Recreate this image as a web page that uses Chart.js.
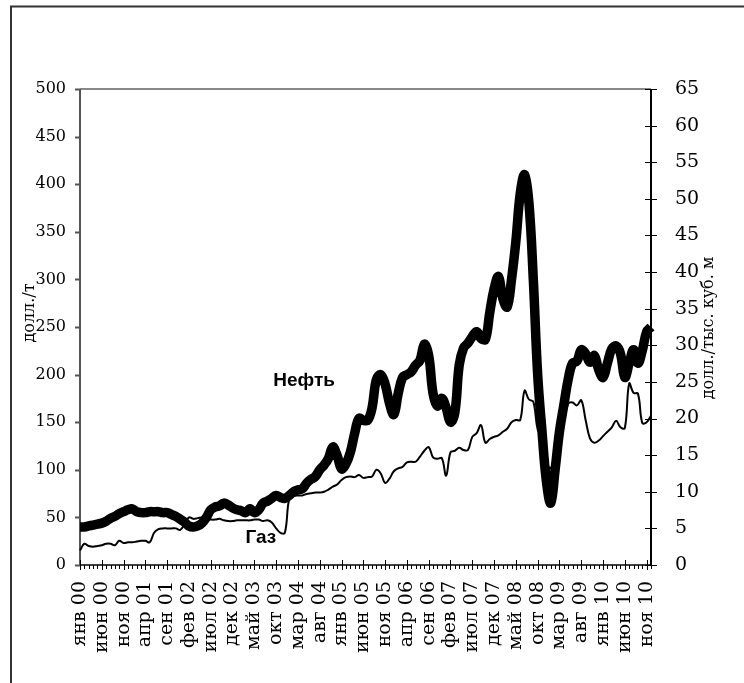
<!DOCTYPE html>
<html>
<head>
<meta charset="utf-8">
<script src="https://cdn.jsdelivr.net/npm/chart.js@4.4.1/dist/chart.umd.min.js"></script>
<style>
  body { margin: 0; background: #fff; }
  canvas { display: block; }
</style>
</head>
<body>
<canvas id="chart" width="744" height="683"></canvas>
<script>
// месяцы и годы для подписей оси X
const monthNames = ['янв', 'фев', 'мар', 'апр', 'май', 'июн', 'июл', 'авг', 'сен', 'окт', 'ноя', 'дек']
const yearNames = ['00', '01', '02', '03', '04', '05', '06', '07', '08', '09', '10']
const categories = []
yearNames.forEach(y => monthNames.forEach(m => categories.push(m + ' ' + y)))

// Нефть, долл./т (левая ось)
const oil = [
  40, 40, 41, 42, 43, 44, 46, 49, 51, 54,
  56, 58, 59, 56, 55, 55, 56, 56, 56, 55,
  55, 53, 51, 48, 45, 41, 40, 41, 44, 50,
  58, 61, 62, 65, 63, 60, 58, 57, 55, 59,
  55, 58, 65, 67, 70, 73, 71, 70, 73, 77,
  79, 80, 86, 90, 93, 100, 105, 112, 124, 115,
  101, 106, 118, 138, 154, 152, 152, 165, 195, 200,
  190, 170, 158, 180, 197, 200, 203, 210, 215, 232,
  220, 180, 167, 175, 165, 150, 160, 210, 228, 233,
  240, 245, 238, 237, 265, 290, 303, 280, 271, 300,
  340, 390, 410, 380, 300, 200, 140, 88, 65, 100,
  140, 168, 195, 212, 214, 226, 222, 213, 220, 205,
  197, 212, 227, 230, 222, 197, 212, 226, 212, 225,
  245, 250
]

// Газ, долл./тыс. куб. м (правая ось)
const gas = [
  2.0, 2.9, 2.6, 2.5, 2.6, 2.7, 2.9, 2.9, 2.7, 3.3,
  3.0, 3.1, 3.1, 3.2, 3.3, 3.3, 3.1, 4.4, 4.9, 5.0,
  5.0, 5.0, 5.0, 4.8, 5.6, 6.5, 6.3, 6.4, 6.5, 6.3,
  6.2, 6.2, 6.3, 6.1, 6.0, 6.0, 6.1, 6.1, 6.1, 6.1,
  6.2, 6.2, 6.0, 6.1, 5.8, 5.0, 4.4, 4.4, 9.0, 9.4,
  9.5, 9.5, 9.7, 9.8, 9.9, 9.9, 10.0, 10.3, 10.7, 11.0,
  11.6, 12.0, 12.1, 12.0, 12.3, 11.9, 12.0, 12.1, 13.0, 12.5,
  11.2, 11.8, 12.8, 13.2, 13.4, 14.0, 14.1, 14.1, 14.8, 15.6,
  16.1, 14.7, 14.5, 14.6, 12.2, 15.4, 15.6, 16.0, 15.7, 15.7,
  17.5, 18.0, 19.1, 16.7, 17.2, 17.5, 17.7, 18.2, 18.6, 19.5,
  19.8, 19.8, 23.8, 22.6, 22.3, 18.5, 17.5, 14.0, 13.2, 15.5,
  17.5, 19.8, 22.0, 22.2, 21.8, 22.5, 19.8, 17.3, 16.7, 17.0,
  17.6, 18.2, 18.8, 19.7, 18.8, 18.7, 24.8, 23.5, 23.4, 19.4,
  19.5, 20.4
]

// подписи кривых: номер месяца и значение по левой оси
const notes = [
  { text: 'Нефть', month: 51.4, value: 193 },
  { text: 'Газ', month: 41.5, value: 29 }
]

const serif = "'DejaVu Serif', 'Liberation Serif', serif"

// рамка, оси и засечки в стиле Excel
const axesPlugin = {
  id: 'axesPlugin',
  beforeDatasetsDraw (chart) {
    const { ctx, chartArea: a, scales } = chart
    ctx.save()

    // внешняя рамка
    ctx.strokeStyle = '#333'
    ctx.lineWidth = 2
    ctx.beginPath()
    ctx.moveTo(11, chart.height)
    ctx.lineTo(11, 6.5)
    ctx.lineTo(chart.width, 6.5)
    ctx.stroke()

    // верхняя граница области построения
    ctx.strokeStyle = '#888'
    ctx.beginPath()
    ctx.moveTo(a.left, a.top)
    ctx.lineTo(a.right, a.top)
    ctx.stroke()

    // левая ось
    ctx.strokeStyle = '#555'
    ctx.beginPath()
    ctx.moveTo(a.left, a.top)
    ctx.lineTo(a.left, a.bottom)
    scales.y.ticks.forEach(t => {
      const py = Math.round(scales.y.getPixelForValue(t.value)) + 0.5
      ctx.moveTo(a.left - 5, py)
      ctx.lineTo(a.left, py)
    })
    ctx.stroke()

    // правая ось
    ctx.strokeStyle = '#000'
    ctx.beginPath()
    ctx.moveTo(a.right, a.top)
    ctx.lineTo(a.right, a.bottom)
    ctx.stroke()
    ctx.lineWidth = 1.2
    ctx.beginPath()
    scales.y2.ticks.forEach(t => {
      const py = Math.round(scales.y2.getPixelForValue(t.value)) + 0.5
      ctx.moveTo(a.right - 6, py)
      ctx.lineTo(a.right + 6, py)
    })
    ctx.stroke()

    // ось X
    ctx.lineWidth = 1.5
    ctx.beginPath()
    ctx.moveTo(a.left, a.bottom)
    ctx.lineTo(a.right, a.bottom)
    ctx.stroke()
    ctx.lineWidth = 1
    ctx.beginPath()
    categories.forEach((c, i) => {
      const px = Math.round(scales.x.getPixelForValue(i)) + 0.5
      if (i % 5 === 0) {
        ctx.moveTo(px, a.bottom - 5)
        ctx.lineTo(px, a.bottom + 5)
      } else {
        ctx.moveTo(px, a.bottom)
        ctx.lineTo(px, a.bottom + 4)
      }
    })
    ctx.stroke()
    ctx.restore()
  },
  afterDatasetsDraw (chart) {
    const { ctx, chartArea: a, scales } = chart
    ctx.save()
    ctx.fillStyle = '#000'
    ctx.textAlign = 'center'
    ctx.textBaseline = 'middle'

    // подписи кривых
    ctx.font = "bold 19px 'Liberation Sans', Arial, sans-serif"
    notes.forEach(n => {
      ctx.fillText(n.text, scales.x.getPixelForValue(n.month), scales.y.getPixelForValue(n.value))
    })

    // названия осей (читаются снизу вверх)
    ctx.font = '16px ' + serif
    ctx.save()
    ctx.translate(30, (a.top + a.bottom) / 2 - 14)
    ctx.rotate(-Math.PI / 2)
    ctx.fillText('долл./т', 0, 0)
    ctx.restore()
    ctx.save()
    ctx.translate(709, (a.top + a.bottom) / 2 + 1)
    ctx.rotate(-Math.PI / 2)
    ctx.fillText('долл./тыс. куб. м', 0, 0)
    ctx.restore()
    ctx.restore()
  }
}

new Chart(document.getElementById('chart'), {
  type: 'line',
  data: {
    labels: categories,
    datasets: [
      {
        label: 'Нефть',
        data: oil,
        yAxisID: 'y',
        borderColor: '#000',
        borderWidth: 9.5,
        pointRadius: 0,
        tension: 0.4,
        fill: false
      },
      {
        label: 'Газ',
        data: gas,
        yAxisID: 'y2',
        borderColor: '#000',
        borderWidth: 2,
        pointRadius: 0,
        tension: 0.4,
        fill: false
      }
    ]
  },
  options: {
    responsive: false,
    animation: false,
    layout: { padding: { top: 89, left: 0, right: 0, bottom: 0 } },
    plugins: {
      legend: { display: false },
      tooltip: { enabled: false }
    },
    scales: {
      x: {
        offset: false,
        grid: { display: false },
        border: { display: false },
        afterFit: s => { s.height = 118 },
        ticks: {
          autoSkip: false,
          minRotation: 90,
          maxRotation: 90,
          padding: 8,
          color: '#000',
          font: { family: serif, size: 19 },
          callback: (v, i) => (i % 5 === 0 ? categories[i] : '')
        }
      },
      y: {
        position: 'left',
        min: 0,
        max: 500,
        grid: { display: false },
        border: { display: false },
        afterFit: s => { s.width = 80 },
        ticks: {
          stepSize: 50,
          padding: 6,
          color: '#000',
          font: { family: serif, size: 16 }
        }
      },
      y2: {
        position: 'right',
        min: 0,
        max: 65,
        grid: { display: false },
        border: { display: false },
        afterFit: s => { s.width = 93 },
        ticks: {
          stepSize: 5,
          padding: 16,
          color: '#000',
          font: { family: serif, size: 19 }
        }
      }
    }
  },
  plugins: [axesPlugin]
})
</script>
</body>
</html>
